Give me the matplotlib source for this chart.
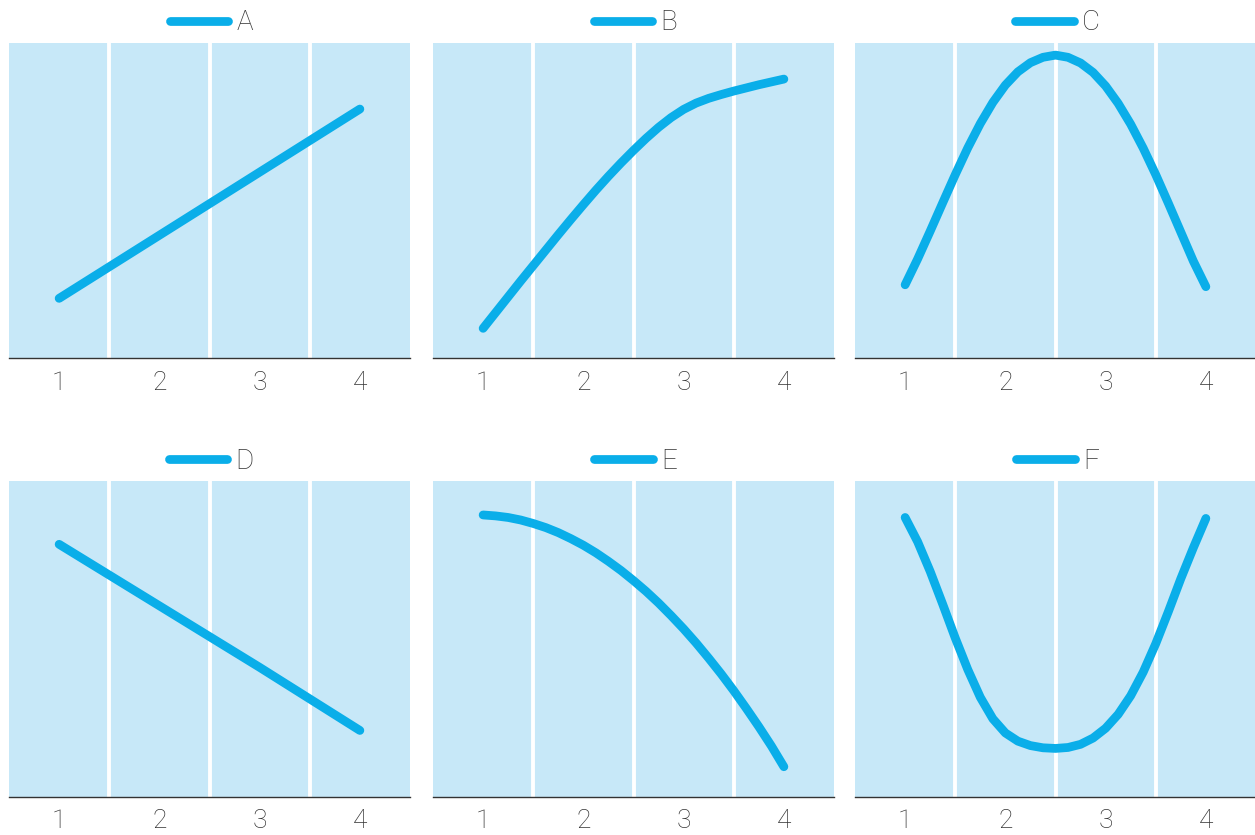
import numpy as np
import matplotlib
matplotlib.use("Agg")
import matplotlib.pyplot as plt

plt.rcParams['font.family'] = ['Roboto', 'DejaVu Sans']

# straight lines
x_lin = [1, 2, 3, 4]
a_vals = [1.9, 3.9, 5.9, 7.9]
d_vals = [8.0, 6.05, 4.1, 2.1]

# curves, read every 1/8 unit
x_fine = [1.0, 1.125, 1.25, 1.375, 1.5, 1.625, 1.75, 1.875,
          2.0, 2.125, 2.25, 2.375, 2.5, 2.625, 2.75, 2.875,
          3.0, 3.125, 3.25, 3.375, 3.5, 3.625, 3.75, 3.875, 4.0]
b_vals = [0.95, 1.45, 1.95, 2.45, 2.94, 3.43, 3.92, 4.40,
          4.87, 5.33, 5.77, 6.19, 6.59, 6.97, 7.32, 7.63,
          7.89, 8.09, 8.24, 8.36, 8.47, 8.57, 8.67, 8.76, 8.85]
c_vals = [2.33, 3.15, 4.03, 4.93, 5.82, 6.67, 7.44, 8.11,
          8.66, 9.08, 9.37, 9.54, 9.61, 9.54, 9.36, 9.06,
          8.63, 8.08, 7.42, 6.66, 5.82, 4.92, 4.0, 3.08, 2.27]
e_vals = [8.93, 8.90, 8.85, 8.77, 8.66, 8.53, 8.37, 8.18,
          7.97, 7.73, 7.46, 7.17, 6.85, 6.51, 6.14, 5.74,
          5.32, 4.87, 4.39, 3.89, 3.36, 2.80, 2.22, 1.61, 0.95]
f_vals = [8.85, 8.08, 7.14, 6.10, 5.03, 4.03, 3.15, 2.47,
          2.02, 1.76, 1.62, 1.55, 1.53, 1.56, 1.66, 1.86,
          2.17, 2.61, 3.20, 3.95, 4.85, 5.86, 6.91, 7.89, 8.82]

labels = ['A', 'B', 'C', 'D', 'E', 'F']
xs = [x_lin, x_fine, x_fine, x_lin, x_fine, x_fine]
series = [a_vals, b_vals, c_vals, d_vals, e_vals, f_vals]
ticks = [1, 2, 3, 4]

bg = '#c7e8f8'
line_col = '#0aaee9'
text_col = '#333333'

fig = plt.figure(figsize=(12.55, 8.35), dpi=100)

lefts = [9 / 1255, 433 / 1255, 855 / 1255]
bottoms = [1 - 358.3 / 835, 1 - 796.7 / 835]
w = 401 / 1255
h = 315.5 / 835

for i, (lab, xx, vals) in enumerate(zip(labels, xs, series)):
    ax = fig.add_axes([lefts[i % 3], bottoms[i // 3], w, h])
    ax.set_facecolor(bg)
    ax.plot(xx, vals, color=line_col, lw=6.3, solid_capstyle='round',
            solid_joinstyle='round', label=lab)
    for gx in [1.5, 2.5, 3.5]:
        ax.axvline(gx, color='white', lw=2.8, zorder=1)
    ax.set_xlim(0.5, 4.5)
    ax.set_ylim(0, 10)
    ax.set_xticks(ticks)
    ax.set_xticklabels([str(t) for t in ticks], fontsize=19, color=text_col,
                       fontweight='light')
    ax.tick_params(axis='x', length=0, pad=9)
    ax.set_yticks([])
    for s in ['top', 'left', 'right']:
        ax.spines[s].set_visible(False)
    ax.spines['bottom'].set_color(text_col)
    ax.spines['bottom'].set_linewidth(1.0)
    leg = ax.legend(loc='lower center', bbox_to_anchor=(0.505, 0.985), frameon=False,
                    handlelength=2.1, handletextpad=0.3, fontsize=20,
                    borderaxespad=0.0)
    for t in leg.get_texts():
        t.set_color(text_col)
        t.set_fontweight('light')

fig.savefig('out.png', dpi=100)
